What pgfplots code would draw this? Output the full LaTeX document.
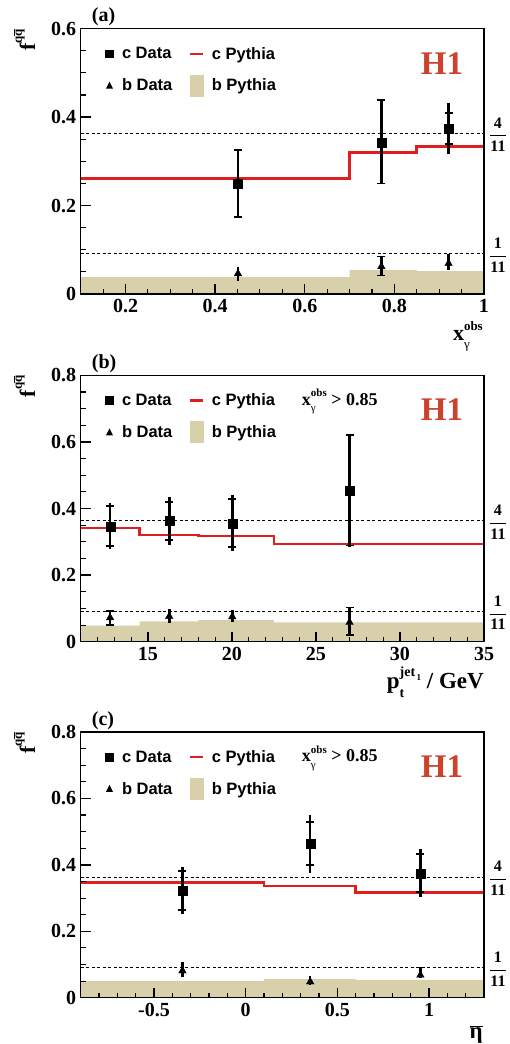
\documentclass[border=0pt]{standalone}
\usepackage{pgfplots}
\pgfplotsset{compat=1.18}
\usepackage{fontspec}
\setmainfont{Liberation Serif}
\newfontfamily\lsans{Liberation Sans}
\definecolor{pyred}{RGB}{225,30,30}
\definecolor{hred}{RGB}{205,65,45}
\definecolor{btan}{RGB}{216,208,170}

\pgfplotsset{
  h1axis/.style={
    scale only axis, width=403.3pt,
    clip=false, axis on top,
    tick pos=left,
    axis line style={line width=1.5pt},
    major tick style={line width=1.3pt, black},
    minor tick style={line width=1.1pt, black},
    major tick length=10pt, minor tick length=5pt,
    tick label style={font=\fontsize{20}{20}\selectfont\bfseries},
    /pgf/number format/assume math mode=true,
    yticklabel style={xshift=-1pt},
    xticklabel style={yshift=-2pt},
    legend columns=2,
    legend cell align=left,
    legend style={at={(axis description cs:0,1)}, anchor=north west,
      xshift=24.3pt, yshift=-18.5pt, draw=none, fill=none,
      inner sep=0pt, outer sep=0pt,
      nodes={inner sep=0pt, font=\lsans\bfseries\fontsize{16.5}{16.5}\selectfont},
      row sep=14pt,
      /tikz/every odd column/.append style={column sep=8pt},
      /tikz/every even column/.append style={column sep=16pt}},
  },
  dashref/.style={black, line width=0.9pt, dash pattern=on 3pt off 2.5pt, forget plot, mark=none},
  pyline/.style={pyred, line width=2.6pt, const plot, mark=none, forget plot},
  pyfill/.style={fill=btan, draw=none, const plot, mark=none, forget plot},
  totbar/.style={only marks, mark=none, forget plot,
    error bars/.cd, y dir=both, y explicit, error mark=none,
    error bar style={draw=black, solid, line width=2.5pt}},
  statbar/.style={only marks, mark=none, forget plot,
    error bars/.cd, y dir=both, y explicit, error mark=-,
    error bar style={draw=black, solid, line width=2.5pt},
    error mark options={rotate=90, draw=black, solid, line width=1.8pt, mark size=4pt}},
  cmark/.style={only marks, mark=square*, mark size=4.5pt, forget plot,
    mark options={draw=black, fill=black, solid, line width=0.2pt}},
  bmark/.style={only marks, mark=triangle*, mark size=4.5pt, forget plot,
    mark options={draw=black, fill=black, solid, line width=0.2pt}},
}

\newcommand\hlegend{%
  \addlegendimage{legend image code/.code={\path[draw=none,fill=none] (0pt,-4.5pt) rectangle (9pt,4.5pt); \fill[black,draw=none] (0.2pt,-4.3pt) rectangle (8.8pt,4.3pt);}}
  \addlegendentry{c Data}
  \addlegendimage{legend image code/.code={\path[draw=none,fill=none] (0pt,-4.5pt) rectangle (14pt,4.5pt); \draw[pyred, line width=2.4pt, fill=none] (0pt,0pt) -- (13pt,0pt);}}
  \addlegendentry{c Pythia}
  \addlegendimage{legend image code/.code={\path[draw=none,fill=none] (0pt,-4.5pt) rectangle (9pt,4.5pt); \fill[black,draw=none] (1pt,-3pt) -- (8pt,-3pt) -- (4.5pt,4pt) -- cycle;}}
  \addlegendentry{b Data}
  \addlegendimage{legend image code/.code={\fill[btan,draw=none] (0pt,-11pt) rectangle (14pt,11pt);}}
  \addlegendentry{b Pythia}
}
\newcommand\ylab{\fontsize{22}{22}\selectfont\bfseries f\raisebox{0.6em}{\fontsize{13}{13}\selectfont\bfseries q$\overline{\hbox{q}}$}}
\newcommand\fr[1]{\fontsize{16}{16}\selectfont\bfseries $\displaystyle\frac{\hbox{#1}}{\hbox{11}}$}
\newcommand\hone{\fontsize{33}{33}\selectfont\bfseries\color{hred}H1}
\newcommand\panel[1]{\fontsize{20}{20}\selectfont\bfseries (#1)}
\newcommand\xcut{\fontsize{18}{18}\selectfont\bfseries x\rlap{\raisebox{-0.38em}{\fontsize{11}{11}\selectfont\mdseries γ}}\raisebox{0.45em}{\fontsize{11}{11}\selectfont obs} {>} 0.85}

\begin{document}
\begin{tikzpicture}
\useasboundingbox (0pt,0pt) rectangle (509pt,-1044pt);

% ---------------- (a)
\begin{axis}[h1axis, at={(80.7pt,-294pt)}, anchor=south west, height=265.3pt,
  xmin=0.1, xmax=1, ymin=0, ymax=0.6,
  xtick={0.2,0.4,0.6,0.8,1},
  minor xtick={0.15,0.25,0.3,0.35,0.45,0.5,0.55,0.65,0.7,0.75,0.85,0.9,0.95},
  ytick={0,0.2,0.4,0.6},
  minor ytick={0.05,0.1,0.15,0.25,0.3,0.35,0.45,0.5,0.55}]
\addplot[pyfill] coordinates {(0.1,0.038) (0.7,0.054) (0.85,0.052) (1,0.052)} \closedcycle;
\addplot[dashref] coordinates {(0.1,0.3636) (1,0.3636)};
\addplot[dashref] coordinates {(0.1,0.0909) (1,0.0909)};
\addplot[pyline] coordinates {(0.1,0.261) (0.7,0.320) (0.85,0.334) (1,0.334)};
\addplot[totbar] coordinates {(0.451,0.250) += (0,0.076) -= (0,0.077) (0.771,0.342) += (0,0.097) -= (0,0.093) (0.921,0.375) += (0,0.058) -= (0,0.059)};
\addplot[statbar] coordinates {(0.451,0.250) += (0,0.075) -= (0,0.076) (0.771,0.342) += (0,0.096) -= (0,0.092) (0.921,0.375) += (0,0.034) -= (0,0.036)};
\addplot[cmark] coordinates {(0.451,0.250) (0.771,0.342) (0.921,0.375)};
\addplot[totbar] coordinates {(0.451,0.046) += (0,0.016) -= (0,0.016) (0.771,0.062) += (0,0.024) -= (0,0.021) (0.921,0.069) += (0,0.021) -= (0,0.015)};
\addplot[statbar] coordinates {(0.771,0.062) += (0,0.023) -= (0,0.020)};
\addplot[bmark] coordinates {(0.451,0.046) (0.771,0.062) (0.921,0.069)};
\hlegend
\node[anchor=west, inner sep=0pt] at (axis cs:1,0.3636) [xshift=5pt, yshift=-1.5pt] {\fr{4}};
\node[anchor=west, inner sep=0pt] at (axis cs:1,0.0909) [xshift=5pt, yshift=-1.5pt] {\fr{1}};
\node[anchor=base east, inner sep=0pt] at (axis description cs:1,1) [xshift=-20.7pt, yshift=-45.3pt] {\hone};
\node[anchor=base west, inner sep=0pt] at (axis description cs:0,1) [xshift=11pt, yshift=7pt] {\panel{a}};
\node[anchor=base east, inner sep=0pt, rotate=90] at (axis description cs:-0.1133,1) {\ylab};
\node[anchor=base east, inner sep=0pt] at (axis description cs:1,0) [xshift=-1pt, yshift=-46pt] {\fontsize{22}{22}\selectfont\bfseries x\rlap{\raisebox{-0.38em}{\fontsize{13}{13}\selectfont\mdseries γ}}\raisebox{0.45em}{\fontsize{13}{13}\selectfont obs}};
\end{axis}

% ---------------- (b)
\begin{axis}[h1axis, at={(80.7pt,-641.7pt)}, anchor=south west, height=266.4pt,
  xmin=11, xmax=35, ymin=0, ymax=0.8,
  xtick={15,20,25,30,35},
  minor xtick={12,13,14,16,17,18,19,21,22,23,24,26,27,28,29,31,32,33,34},
  ytick={0,0.2,0.4,0.6,0.8},
  minor ytick={0.05,0.1,0.15,0.25,0.3,0.35,0.45,0.5,0.55,0.65,0.7,0.75}]
\addplot[pyfill] coordinates {(11,0.048) (14.5,0.061) (18,0.065) (22.5,0.058) (35,0.058)} \closedcycle;
\addplot[dashref] coordinates {(11,0.3636) (35,0.3636)};
\addplot[dashref] coordinates {(11,0.0909) (35,0.0909)};
\addplot[pyline] coordinates {(11,0.342) (14.5,0.320) (18,0.317) (22.5,0.294) (35,0.294)};
\addplot[totbar] coordinates {(12.75,0.347) += (0,0.069) -= (0,0.070) (16.27,0.363) += (0,0.071) -= (0,0.073) (20.02,0.356) += (0,0.084) -= (0,0.083) (27.0,0.454) += (0,0.171) -= (0,0.171)};
\addplot[statbar] coordinates {(12.75,0.347) += (0,0.060) -= (0,0.060) (16.27,0.363) += (0,0.057) -= (0,0.058) (20.02,0.356) += (0,0.072) -= (0,0.071) (27.0,0.454) += (0,0.167) -= (0,0.165)};
\addplot[cmark] coordinates {(12.75,0.347) (16.27,0.363) (20.02,0.356) (27.0,0.454)};
\addplot[totbar] coordinates {(12.75,0.072) += (0,0.023) -= (0,0.024) (16.27,0.076) += (0,0.021) -= (0,0.019) (20.02,0.075) += (0,0.020) -= (0,0.017) (27.0,0.058) += (0,0.047) -= (0,0.040)};
\addplot[statbar] coordinates {(12.75,0.072) += (0,0.021) -= (0,0.022) (27.0,0.058) += (0,0.045) -= (0,0.038)};
\addplot[bmark] coordinates {(12.75,0.072) (16.27,0.076) (20.02,0.075) (27.0,0.058)};
\hlegend
\node[anchor=west, inner sep=0pt] at (axis cs:35,0.3636) [xshift=5pt, yshift=-1.5pt] {\fr{4}};
\node[anchor=west, inner sep=0pt] at (axis cs:35,0.0909) [xshift=5pt, yshift=-1.5pt] {\fr{1}};
\node[anchor=base east, inner sep=0pt] at (axis description cs:1,1) [xshift=-20.7pt, yshift=-45.5pt] {\hone};
\node[anchor=base west, inner sep=0pt] at (axis description cs:0,1) [xshift=11pt, yshift=7pt] {\panel{b}};
\node[anchor=base west, inner sep=0pt] at (axis description cs:0,1) [xshift=221pt, yshift=-29.7pt] {\xcut};
\node[anchor=base east, inner sep=0pt, rotate=90] at (axis description cs:-0.1133,1) {\ylab};
\node[anchor=base east, inner sep=0pt] at (axis description cs:1,0) [xshift=0pt, yshift=-46.6pt] {\fontsize{23}{23}\selectfont\bfseries p\rlap{\raisebox{-0.4em}{\fontsize{14}{14}\selectfont t}}\raisebox{0.5em}{\fontsize{14}{14}\selectfont jet\raisebox{-0.25em}{\fontsize{9}{9}\selectfont\,1}}\ / GeV};
\end{axis}

% ---------------- (c)
\begin{axis}[h1axis, at={(80.7pt,-997.7pt)}, anchor=south west, height=265.7pt,
  xmin=-0.9, xmax=1.3, ymin=0, ymax=0.8,
  xtick={-0.5,0,0.5,1},
  minor xtick={-0.8,-0.7,-0.6,-0.4,-0.3,-0.2,-0.1,0.1,0.2,0.3,0.4,0.6,0.7,0.8,0.9,1.1,1.2},
  ytick={0,0.2,0.4,0.6,0.8},
  minor ytick={0.05,0.1,0.15,0.25,0.3,0.35,0.45,0.5,0.55,0.65,0.7,0.75}]
\addplot[pyfill] coordinates {(-0.9,0.051) (0.1,0.056) (0.6,0.054) (1.3,0.054)} \closedcycle;
\addplot[dashref] coordinates {(-0.9,0.3636) (1.3,0.3636)};
\addplot[dashref] coordinates {(-0.9,0.0909) (1.3,0.0909)};
\addplot[pyline] coordinates {(-0.9,0.346) (0.1,0.336) (0.6,0.316) (1.3,0.316)};
\addplot[totbar] coordinates {(-0.345,0.322) += (0,0.071) -= (0,0.070) (0.352,0.463) += (0,0.087) -= (0,0.087) (0.953,0.3745) += (0,0.0725) -= (0,0.0705)};
\addplot[statbar] coordinates {(-0.345,0.322) += (0,0.060) -= (0,0.058) (0.352,0.463) += (0,0.065) -= (0,0.064) (0.953,0.3745) += (0,0.0575) -= (0,0.0555)};
\addplot[cmark] coordinates {(-0.345,0.322) (0.352,0.463) (0.953,0.3745)};
\addplot[totbar] coordinates {(-0.345,0.081) += (0,0.0255) -= (0,0.018) (0.352,0.048) += (0,0.017) -= (0,0.011) (0.953,0.068) += (0,0.0235) -= (0,0.010)};
\addplot[bmark] coordinates {(-0.345,0.081) (0.352,0.048) (0.953,0.068)};
\hlegend
\node[anchor=west, inner sep=0pt] at (axis cs:1.3,0.3636) [xshift=5pt, yshift=-1.5pt] {\fr{4}};
\node[anchor=west, inner sep=0pt] at (axis cs:1.3,0.0909) [xshift=5pt, yshift=-1.5pt] {\fr{1}};
\node[anchor=base east, inner sep=0pt] at (axis description cs:1,1) [xshift=-20.7pt, yshift=-45.5pt] {\hone};
\node[anchor=base west, inner sep=0pt] at (axis description cs:0,1) [xshift=11pt, yshift=7pt] {\panel{c}};
\node[anchor=base west, inner sep=0pt] at (axis description cs:0,1) [xshift=221pt, yshift=-29.7pt] {\xcut};
\node[anchor=base east, inner sep=0pt, rotate=90] at (axis description cs:-0.1133,1) {\ylab};
\node[anchor=base east, inner sep=0pt] at (axis description cs:1,0) [xshift=-1pt, yshift=-40.6pt] {\fontsize{23}{23}\selectfont\bfseries $\overline{\hbox{η}}$};
\end{axis}
\end{tikzpicture}
\end{document}
